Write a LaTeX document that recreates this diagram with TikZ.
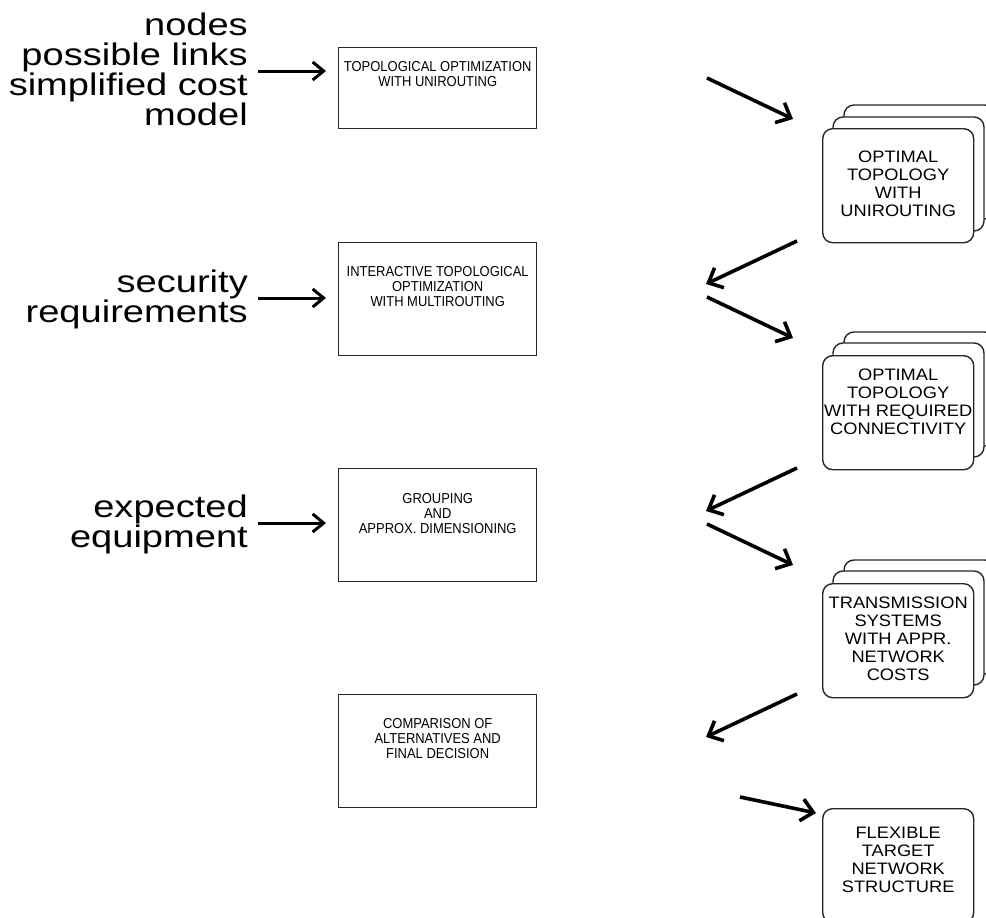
\documentclass[tikz,border=0pt]{standalone}
\usepackage{fontspec}
\setmainfont{Liberation Sans}
\newfontfamily\lblfont[FakeStretch=1.22]{Liberation Sans}
\newfontfamily\boxfont[FakeStretch=0.9]{Liberation Sans}
\newfontfamily\cardfont[FakeStretch=1.1]{Liberation Sans}
\usetikzlibrary{arrows.meta}
\begin{document}
\begin{tikzpicture}[x=1pt,y=-1pt,
  lbl/.style={font=\lblfont\fontsize{31.2pt}{30pt}\selectfont, align=right, inner sep=0pt, anchor=east},
  pbox/.style={draw=black!85, line width=1.4pt, inner sep=0pt, anchor=north west, font=\boxfont\fontsize{14.4pt}{15pt}\selectfont},
  card/.style={draw=black!85, line width=1.4pt, rounded corners=10pt, inner sep=0pt, anchor=north west, fill=white, font=\cardfont\fontsize{16.6pt}{18pt}\selectfont},
  layer/.style={draw=black!85, line width=1.4pt, rounded corners=10pt, fill=white},
  arr/.style={line width=3.6pt, -{Straight Barb[length=12pt,width=22pt]}},
  inarr/.style={line width=3pt, -{Straight Barb[length=11pt,width=18pt]}}]
\useasboundingbox (0,0) rectangle (986,918);

% input labels
\node[lbl] (l1) at (248,69) {nodes\\possible links\\simplified cost\\model};
\node[lbl] (l2) at (248,299) {security\\requirements};
\node[lbl] (l3) at (248,524) {expected\\equipment};

% process boxes
\node[pbox] (b1) at (338,47) {\parbox[c][81pt][t]{198pt}{\centering\vspace*{14pt}TOPOLOGICAL OPTIMIZATION\\WITH UNIROUTING}};
\node[pbox] (b2) at (338,242) {\parbox[c][113pt][t]{198pt}{\centering\vspace*{24pt}INTERACTIVE TOPOLOGICAL\\OPTIMIZATION\\WITH MULTIROUTING}};
\node[pbox] (b3) at (338,468) {\parbox[c][113pt][t]{198pt}{\centering\vspace*{25pt}GROUPING\\AND\\APPROX. DIMENSIONING}};
\node[pbox] (b4) at (338,694) {\parbox[c][113pt][t]{198pt}{\centering\vspace*{24pt}COMPARISON OF\\ALTERNATIVES AND\\FINAL DECISION}};

% result stacks
\draw[layer] (844,105) rectangle ++(151,114);
\draw[layer] (833,117) rectangle ++(151,114);
\node[card] (s1) at (822,128) {\parbox[c][114pt][t]{151pt}{\centering\vspace*{22pt}OPTIMAL\\TOPOLOGY\\WITH\\UNIROUTING}};

\draw[layer] (844,332) rectangle ++(151,114);
\draw[layer] (833,343) rectangle ++(151,114);
\node[card] (s2) at (822,355) {\parbox[c][114pt][t]{151pt}{\centering\vspace*{13pt}OPTIMAL\\TOPOLOGY\\WITH REQUIRED\\CONNECTIVITY}};

\draw[layer] (844,560) rectangle ++(151,114);
\draw[layer] (833,571) rectangle ++(151,114);
\node[card] (s3) at (822,583) {\parbox[c][114pt][t]{151pt}{\centering\vspace*{13pt}TRANSMISSION\\SYSTEMS\\WITH APPR.\\NETWORK\\COSTS}};

\node[card] (s4) at (822,808) {\parbox[c][114pt][t]{151pt}{\centering\vspace*{18pt}FLEXIBLE\\TARGET\\NETWORK\\STRUCTURE}};

% arrow end points
\coordinate (i1s) at (258,71);  \coordinate (i1e) at (326,71);
\coordinate (i2s) at (258,298); \coordinate (i2e) at (326,298);
\coordinate (i3s) at (258,523); \coordinate (i3e) at (326,523);
\coordinate (a1s) at (707,78);  \coordinate (a1e) at (793,119);
\coordinate (a2s) at (797,241); \coordinate (a2e) at (706,284);
\coordinate (a3s) at (707,297); \coordinate (a3e) at (793,338);
\coordinate (a4s) at (797,468); \coordinate (a4e) at (706,511);
\coordinate (a5s) at (707,524); \coordinate (a5e) at (793,565);
\coordinate (a6s) at (797,694); \coordinate (a6e) at (706,737);
\coordinate (a7s) at (740,797); \coordinate (a7e) at (816,813);

\draw[inarr] (i1s) -- (i1e);
\draw[inarr] (i2s) -- (i2e);
\draw[inarr] (i3s) -- (i3e);
\draw[arr] (a1s) -- (a1e);
\draw[arr] (a2s) -- (a2e);
\draw[arr] (a3s) -- (a3e);
\draw[arr] (a4s) -- (a4e);
\draw[arr] (a5s) -- (a5e);
\draw[arr] (a6s) -- (a6e);
\draw[arr] (a7s) -- (a7e);
\end{tikzpicture}
\end{document}
